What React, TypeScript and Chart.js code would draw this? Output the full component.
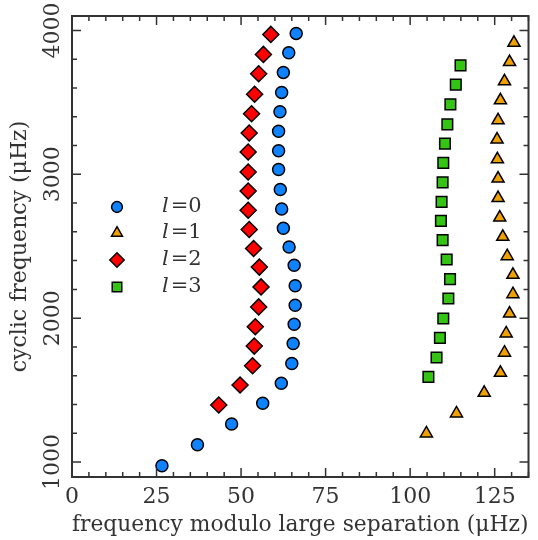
import React, { useEffect, useRef } from 'react';
import { Chart, registerables } from 'chart.js';
import { drawPoint } from 'chart.js/helpers';

Chart.register(...registerables);

// ---- data (frequency modulo large separation, cyclic frequency) ----
const l0Mod = [26.6, 37.1, 47.2, 56.4, 61.9, 65.0, 65.4, 65.7, 66.0, 66.0, 65.7, 64.2, 62.5, 62.0, 61.6, 61.1, 61.1, 61.1, 61.5, 62.0, 62.5, 64.1, 66.3];
const l0Freq = [974, 1120, 1264, 1408, 1547, 1685, 1824, 1958, 2090, 2225, 2368, 2495, 2625, 2759, 2894, 3033, 3164, 3299, 3435, 3569, 3708, 3845, 3979];

const l1Mod = [104.8, 113.7, 121.9, 126.7, 127.9, 128.4, 129.4, 130.4, 130.4, 128.7, 127.4, 126.5, 126.0, 126.0, 125.8, 125.7, 126.0, 126.7, 127.9, 129.4, 130.7];
const l1Freq = [1199, 1338, 1481, 1620, 1760, 1894, 2032, 2167, 2301, 2431, 2565, 2699, 2835, 2970, 3104, 3241, 3375, 3514, 3646, 3780, 3914];

const l2Mod = [43.4, 49.7, 53.4, 53.9, 54.2, 55.2, 55.9, 55.4, 53.7, 52.4, 52.1, 52.1, 52.1, 52.1, 52.4, 53.1, 54.0, 55.2, 56.6, 58.8];
const l2Freq = [1396, 1535, 1669, 1806, 1940, 2078, 2217, 2355, 2484, 2616, 2750, 2884, 3016, 3155, 3287, 3421, 3556, 3699, 3833, 3972];

const l3Mod = [105.4, 107.8, 108.8, 109.8, 111.3, 111.8, 110.8, 109.6, 109.1, 109.3, 109.6, 109.8, 110.3, 111.0, 111.9, 113.5, 114.9];
const l3Freq = [1592, 1727, 1863, 1998, 2137, 2271, 2408, 2542, 2676, 2808, 2944, 3079, 3213, 3347, 3486, 3623, 3757];

const seriesLabels = ['0', '1', '2', '3'];
const xTicks = [0, 25, 50, 75, 100, 125];
const yTicks = [1000, 2000, 3000, 4000];
const xTitle = 'frequency modulo large separation (\u03bcHz)';
const yTitle = 'cyclic frequency (\u03bcHz)';

const FONT = '"DejaVu Serif", serif';
const FS = 22;
const TEXT = '#333333';

const styles = [
  { pointStyle: 'circle', radius: 6, color: '#0f82ff' },
  { pointStyle: 'triangle', radius: 7, color: '#f0a000' },
  { pointStyle: 'rectRot', radius: 8, color: '#ff0000' },
  { pointStyle: 'rect', radius: 7.5, color: '#33c414' },
];

const toPts = (xs: number[], ys: number[]) => xs.map((x, i) => ({ x, y: ys[i] }));

const framePlugin = {
  id: 'frame',
  afterDraw(chart: any) {
    const { ctx, chartArea: a, scales } = chart;
    const xs = scales.x;
    const ys = scales.y;
    ctx.save();
    ctx.strokeStyle = TEXT;
    ctx.lineWidth = 1.5;
    ctx.beginPath();
    for (let v = 0; v <= 135; v += 5) {
      const px = xs.getPixelForValue(v);
      const len = v % 25 === 0 ? 9 : 5;
      ctx.moveTo(px, a.bottom);
      ctx.lineTo(px, a.bottom - len);
      ctx.moveTo(px, a.top);
      ctx.lineTo(px, a.top + len);
    }
    for (let v = 1000; v <= 4000; v += 200) {
      const py = ys.getPixelForValue(v);
      const len = v % 1000 === 0 ? 9 : 5;
      ctx.moveTo(a.left, py);
      ctx.lineTo(a.left + len, py);
      ctx.moveTo(a.right, py);
      ctx.lineTo(a.right - len, py);
    }
    ctx.stroke();
    ctx.lineWidth = 2;
    ctx.strokeRect(a.left, a.top, a.right - a.left, a.bottom - a.top);
    ctx.restore();
  },
};

const legendPlugin = {
  id: 'customLegend',
  afterDraw(chart: any) {
    const { ctx } = chart;
    const rows = [207, 233, 260, 287];
    ctx.save();
    chart.data.datasets.forEach((ds: any, i: number) => {
      const st = styles[i];
      const y = rows[i];
      ctx.fillStyle = st.color;
      ctx.strokeStyle = '#000';
      ctx.lineWidth = 1.5;
      drawPoint(ctx, { pointStyle: st.pointStyle as any, radius: st.radius * 0.9, rotation: 0, borderWidth: 1.5 } as any, 117, y);
      ctx.fillStyle = TEXT;
      ctx.textBaseline = 'middle';
      ctx.textAlign = 'left';
      ctx.font = 'italic 21px ' + FONT;
      ctx.fillText('l', 162, y);
      const w = ctx.measureText('l').width;
      ctx.font = '21px ' + FONT;
      ctx.fillText('=' + seriesLabels[i], 162 + w + 2, y);
    });
    ctx.restore();
  },
};

export default function App() {
  const ref = useRef<HTMLCanvasElement>(null);
  useEffect(() => {
    if (!ref.current) return;
    const datasets = [
      toPts(l0Mod, l0Freq),
      toPts(l1Mod, l1Freq),
      toPts(l2Mod, l2Freq),
      toPts(l3Mod, l3Freq),
    ].map((data, i) => ({
      label: 'l=' + seriesLabels[i],
      data,
      pointStyle: styles[i].pointStyle,
      pointRadius: styles[i].radius,
      backgroundColor: styles[i].color,
      borderColor: '#000000',
      borderWidth: 1.5,
      showLine: false,
    }));
    const chart = new Chart(ref.current, {
      type: 'scatter',
      data: { datasets },
      options: {
        responsive: false,
        animation: false,
        layout: { padding: { top: 16, right: 7, left: 0, bottom: 0 } },
        plugins: { legend: { display: false }, tooltip: { enabled: false } },
        scales: {
          x: {
            type: 'linear',
            min: 0,
            max: 135,
            afterBuildTicks: (s: any) => { s.ticks = xTicks.map((v) => ({ value: v })); },
            afterFit: (s: any) => { s.height = 63; },
            grid: { display: false, drawTicks: false },
            border: { display: false },
            ticks: { color: TEXT, font: { family: FONT, size: FS }, padding: 7, maxRotation: 0, minRotation: 0, callback: (v: any) => String(v) },
            title: { display: true, text: xTitle, color: TEXT, font: { family: FONT, size: FS }, padding: { top: 0, bottom: 2 } },
          },
          y: {
            type: 'linear',
            min: 896,
            max: 4100,
            afterBuildTicks: (s: any) => { s.ticks = yTicks.map((v) => ({ value: v })); },
            afterFit: (s: any) => { s.width = 72; },
            grid: { display: false, drawTicks: false },
            border: { display: false },
            ticks: { color: TEXT, font: { family: FONT, size: FS }, padding: -9, minRotation: 90, maxRotation: 90, crossAlign: 'center', callback: (v: any) => String(v) },
            title: { display: true, text: yTitle, color: TEXT, font: { family: FONT, size: FS }, padding: { top: 7, bottom: 0 } },
          },
        },
      },
      plugins: [framePlugin, legendPlugin],
    } as any);
    return () => chart.destroy();
  }, []);
  return (
    <div style={{ position: 'absolute', left: 0, top: 0, width: 538, height: 540, background: '#fff' }}>
      <canvas ref={ref} width={538} height={540} />
    </div>
  );
}
